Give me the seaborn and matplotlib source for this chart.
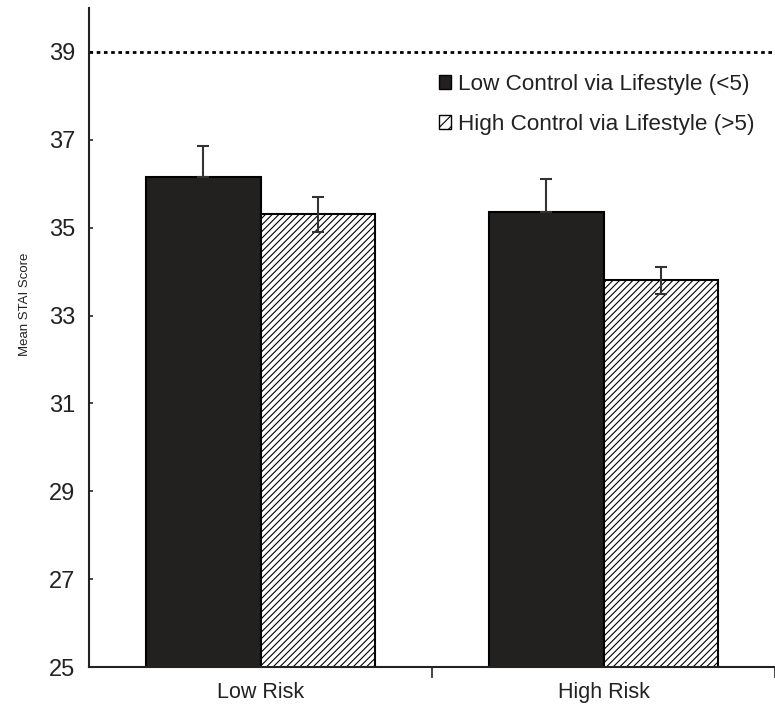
import matplotlib
matplotlib.use("Agg")
import matplotlib.pyplot as plt
from matplotlib.patches import Patch
import seaborn as sns
import pandas as pd

# ---- data ----
risk_groups = ["Low Risk", "High Risk"]
control_groups = ["Low Control via Lifestyle (<5)", "High Control via Lifestyle (>5)"]
low_control_means = [36.15, 35.35]
low_control_se = [0.70, 0.75]
high_control_means = [35.30, 33.80]
high_control_se = [0.40, 0.30]
threshold = 39
y_ticks = [25, 27, 29, 31, 33, 35, 37, 39]

df = pd.DataFrame({
    "risk": risk_groups * 2,
    "control": [control_groups[0]] * 2 + [control_groups[1]] * 2,
    "mean": low_control_means + high_control_means,
})
se_by_group = [low_control_se, high_control_se]

sns.set_style("white")
plt.rcParams["font.family"] = ["Liberation Sans", "DejaVu Sans"]
plt.rcParams["hatch.linewidth"] = 0.8
plt.rcParams["hatch.color"] = "#333333"

fig = plt.figure(figsize=(7.75, 7.09), dpi=100)
ax = fig.add_axes([89 / 775, 1 - 667 / 709, 1 - 89 / 775, (667 - 8) / 709])

dark = "#231f20"
sns.barplot(data=df, x="risk", y="mean", hue="control", hue_order=control_groups,
            order=risk_groups, palette=[dark, "white"], width=0.67,
            edgecolor="black", linewidth=1.5, errorbar=None, legend=False, ax=ax)

hatches = ["", "/////"]
upper_only = [True, False]
for cont, hatch, ses, up in zip(ax.containers, hatches, se_by_group, upper_only):
    xs, ys = [], []
    for bar in cont:
        bar.set_hatch(hatch)
        xs.append(bar.get_x() + bar.get_width() / 2)
        ys.append(bar.get_height())
    yerr = [[0] * len(ses), ses] if up else ses
    ax.errorbar(xs, ys, yerr=yerr, fmt="none", ecolor="#333333", elinewidth=1.5,
                capsize=4.5, capthick=1.5, zorder=3)

ax.axhline(threshold, color="black", linestyle=(0, (1.3, 1.3)), linewidth=2)

ax.set_ylim(25, 40)
ax.set_xlim(-0.5, 1.48)
ax.set_yticks(y_ticks)
ax.set_yticklabels([str(t) for t in y_ticks], fontsize=17, color="#222222")
ax.tick_params(axis="y", direction="in", length=3, width=1.2, pad=10, left=True)
ax.tick_params(axis="x", which="major", length=0, pad=11, labelsize=15.5, labelcolor="#222222")
ax.set_xticks([0.5, 1.5], minor=True)
ax.tick_params(axis="x", which="minor", direction="out", length=8, width=1.2, bottom=True)
ax.set_xlabel("")
ax.set_ylabel("Mean STAI Score", fontsize=9.5, color="#222222")
ax.yaxis.set_label_coords(-0.085, 0.55)

for side in ["top", "right"]:
    ax.spines[side].set_visible(False)
for side in ["left", "bottom"]:
    ax.spines[side].set_color("#222222")
    ax.spines[side].set_linewidth(1.5)

handles = [Patch(facecolor=dark, edgecolor="black", label=control_groups[0]),
           Patch(facecolor="white", edgecolor="black", hatch="///", label=control_groups[1])]
ax.legend(handles=handles, loc="upper left", bbox_to_anchor=(439 / 775, 1 - 74 / 709),
          bbox_transform=fig.transFigure, frameon=False, fontsize=16.2,
          handlelength=0.55, handleheight=0.55, handletextpad=0.3, labelspacing=0.85,
          borderpad=0, borderaxespad=0, labelcolor="#222222")

fig.savefig("out.png", dpi=100)
